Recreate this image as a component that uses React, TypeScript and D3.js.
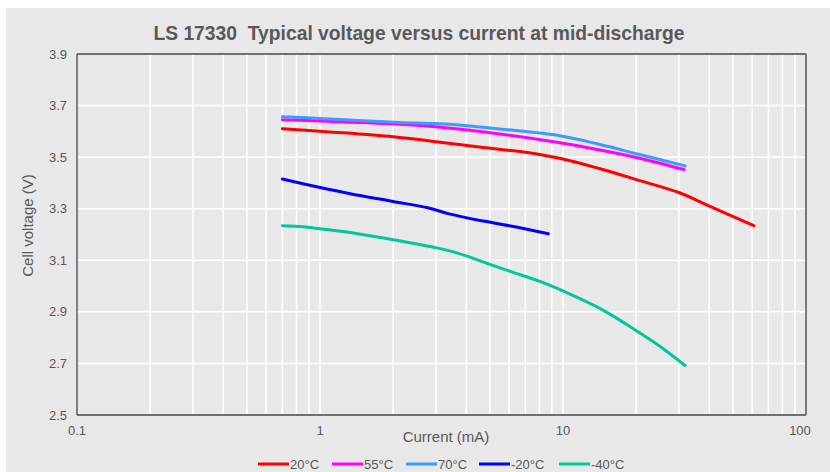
import React from "react";
import * as d3 from "d3";

const W = 830;
const H = 472;

const titleText = "LS 17330  Typical voltage versus current at mid-discharge";
const xTickValues = [0.1, 1, 10, 100];
const yTickValues = [2.5, 2.7, 2.9, 3.1, 3.3, 3.5, 3.7, 3.9];
const seriesNames = ["20°C", "55°C", "70°C", "-20°C", "-40°C"];
const seriesColors = ["#ff0000", "#ff00ff", "#3d9bff", "#0000ff", "#00c896"];

const s20: [number, number][] = [
  [0.7, 3.61], [1.13, 3.597], [2, 3.579], [3, 3.56], [4.7, 3.537], [7, 3.519],
  [10, 3.493], [14.2, 3.455], [20.2, 3.412], [30.3, 3.361], [39, 3.315], [61, 3.234],
];
const s55: [number, number][] = [
  [0.7, 3.645], [1, 3.64], [2.13, 3.628], [2.9, 3.619], [5.5, 3.59], [9.7, 3.556],
  [14.2, 3.528], [20.7, 3.496], [31.5, 3.452],
];
const s70: [number, number][] = [
  [0.7, 3.657], [1, 3.65], [2.13, 3.634], [3.5, 3.627], [5.5, 3.609], [9.7, 3.583],
  [14.2, 3.549], [20.7, 3.51], [31.8, 3.466],
];
const sm20: [number, number][] = [
  [0.7, 3.415], [1, 3.382], [1.33, 3.358], [2, 3.328], [2.8, 3.303], [3.4, 3.28],
  [4.7, 3.252], [6.5, 3.228], [8.7, 3.203],
];
const sm40: [number, number][] = [
  [0.7, 3.234], [0.85, 3.23], [1, 3.222], [1.37, 3.206], [2, 3.18], [3.02, 3.148],
  [3.77, 3.125], [5, 3.084], [6.06, 3.057], [8.04, 3.018], [9.72, 2.986],
  [14.66, 2.906], [20.1, 2.826], [25.1, 2.766], [31.8, 2.692],
];
const allSeries = [s20, s55, s70, sm20, sm40];

const PL = 77, PR = 806, PT = 54, PB = 415;
const textColor = "#595959";
const font = "'Liberation Sans', Arial, sans-serif";

export default function App() {
  const x = d3.scaleLog().domain([0.1, 100]).range([PL, PR]);
  const y = d3.scaleLinear().domain([2.5, 3.9]).range([PB, PT]);
  const minor: number[] = [];
  [0.1, 1, 10].forEach((d) => {
    for (let k = 1; k <= 9; k++) minor.push(d * k);
  });
  minor.push(100);
  const line = d3
    .line<[number, number]>()
    .x((d) => x(d[0]))
    .y((d) => y(d[1]))
    .curve(d3.curveCatmullRom.alpha(0.5));

  const legendX = [258, 332, 406, 479, 559];

  return (
    <svg
      width={W}
      height={H}
      style={{ position: "absolute", left: 0, top: 0, display: "block" }}
    >
      <rect x={0} y={0} width={W} height={H} fill="#ffffff" />
      <rect x={6} y={8} width={W - 6} height={H - 8} fill="#e8e8e8" />
      <text
        x={419}
        y={40}
        textAnchor="middle"
        fontFamily={font}
        fontWeight="bold"
        fontSize={19.3}
        fill={textColor}
        style={{ whiteSpace: "pre" }}
      >
        {titleText}
      </text>
      {minor.map((v, i) => (
        <line key={"vx" + i} x1={x(v)} x2={x(v)} y1={PT} y2={PB} stroke="#ffffff" strokeWidth={1.5} />
      ))}
      {yTickValues.map((v, i) => (
        <line key={"hy" + i} x1={PL} x2={PR} y1={y(v)} y2={y(v)} stroke="#ffffff" strokeWidth={1.5} />
      ))}
      <line x1={PL} x2={PR} y1={PT} y2={PT} stroke="#404040" strokeWidth={1.3} />
      <line x1={PL} x2={PL} y1={PT} y2={PB} stroke="#404040" strokeWidth={1.3} />
      <line x1={PL} x2={PR} y1={PB} y2={PB} stroke="#404040" strokeWidth={1.3} />
      <line x1={PR} x2={PR} y1={PT} y2={PB} stroke="#7a7a7a" strokeWidth={2} />
      {allSeries.map((s, i) => (
        <path key={"s" + i} d={line(s) || ""} fill="none" stroke={seriesColors[i]} strokeWidth={3} strokeLinecap="round" />
      ))}
      {yTickValues.map((v, i) => (
        <text key={"yt" + i} x={67} y={y(v) + 4.5} textAnchor="end" fontFamily={font} fontSize={13} fill={textColor}>
          {v.toFixed(1)}
        </text>
      ))}
      {xTickValues.map((v, i) => (
        <text key={"xt" + i} x={i === 3 ? x(v) - 6 : x(v)} y={435} textAnchor="middle" fontFamily={font} fontSize={13} fill={textColor}>
          {String(v)}
        </text>
      ))}
      <text x={446} y={442} textAnchor="middle" fontFamily={font} fontSize={15} fill={textColor}>
        Current (mA)
      </text>
      <text
        transform={`translate(33,${(PT + PB) / 2 - 9}) rotate(-90)`}
        textAnchor="middle"
        fontFamily={font}
        fontSize={15}
        fill={textColor}
      >
        Cell voltage (V)
      </text>
      {seriesNames.map((n, i) => (
        <g key={"lg" + i}>
          <line x1={legendX[i]} x2={legendX[i] + 31} y1={464} y2={464} stroke={seriesColors[i]} strokeWidth={3} />
          <text x={legendX[i] + 32} y={468.5} fontFamily={font} fontSize={13} fill={textColor}>
            {n}
          </text>
        </g>
      ))}
    </svg>
  );
}
